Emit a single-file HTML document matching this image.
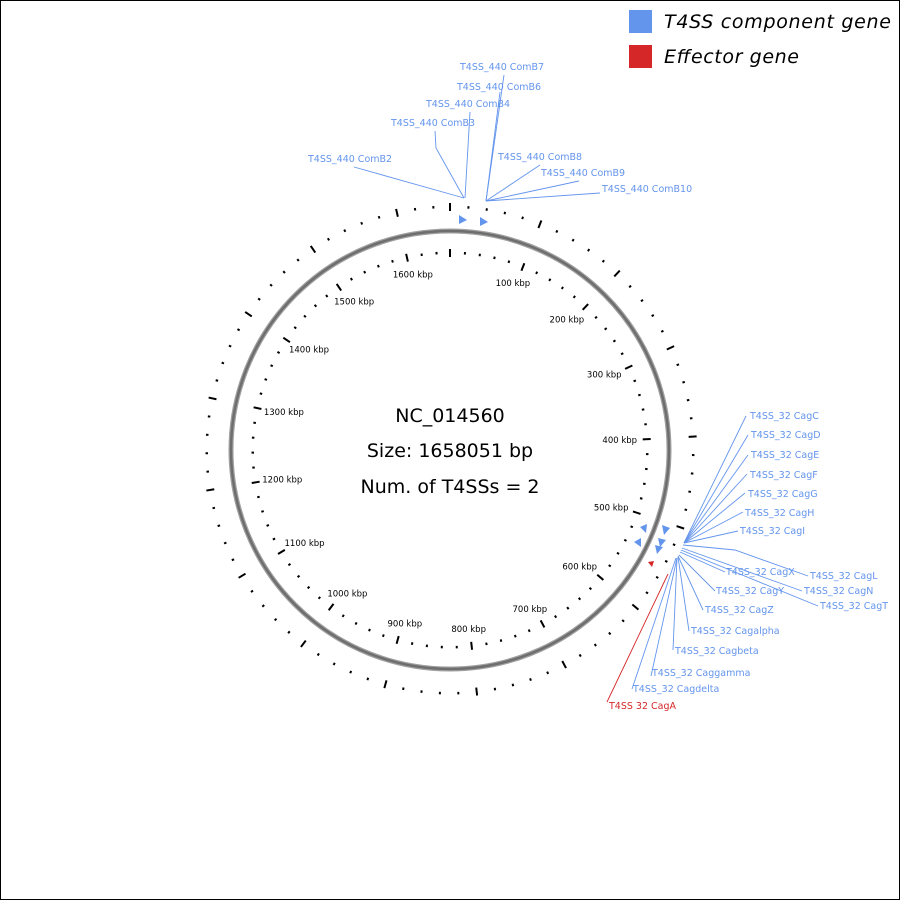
<!DOCTYPE html>
<html><head><meta charset="utf-8"><style>
html,body{margin:0;padding:0;background:#fff}
svg{display:block}
.l{font-family:"DejaVu Sans","Liberation Sans",sans-serif;font-size:9.5px;fill:#6495ED}
.k{font-family:"DejaVu Sans","Liberation Sans",sans-serif;font-size:8.5px;fill:#000}
.c{font-family:"DejaVu Sans","Liberation Sans",sans-serif;font-size:19px;fill:#000;text-anchor:middle}
</style></head><body>
<svg id="s" width="900" height="900" viewBox="0 0 900 900" xmlns="http://www.w3.org/2000/svg">
<rect x="0.5" y="0.5" width="899" height="899" fill="#fff" stroke="#000" stroke-width="1"/>
<rect x="629" y="10" width="23" height="23" fill="#6495ED"/>
<text x="664" y="28" font-family="DejaVu Sans,Liberation Sans,sans-serif" font-size="19" font-style="italic" textLength="227">T4SS component gene</text>
<rect x="629" y="45" width="23" height="23" fill="#D62728"/>
<text x="664" y="63" font-family="DejaVu Sans,Liberation Sans,sans-serif" font-size="19" font-style="italic" textLength="135">Effector gene</text>
<circle cx="450" cy="450" r="219" fill="none" stroke="#a0a0a0" stroke-width="5"/>
<circle cx="450" cy="450" r="219" fill="none" stroke="#6e6e6e" stroke-width="2.5"/>
<g id="ticks"></g>
<text class="c" x="450" y="422">NC_014560</text>
<text class="c" x="450" y="457">Size: 1658051 bp</text>
<text class="c" x="450" y="493">Num. of T4SSs = 2</text>
<g fill="#6495ED">
<polygon points="459,215 467,220 459,224"/>
<polygon points="480,217 488,222 480,226"/>
<polygon points="662,525 670,528 664,535"/>
<polygon points="658,538 666,540 660,547"/>
<polygon points="655,545 663,547 657,554"/>
<polygon points="640,527 647,524 646,533"/>
<polygon points="634,542 641,538 641,547"/>
</g>
<polygon points="648,562 654,561 652,567" fill="#D62728"/>
<g stroke="#6495ED" stroke-width="0.9" fill="none">
<polyline points="354,167 464,198"/>
<polyline points="435,131 436,148 464,198"/>
<polyline points="470,112 465,198"/>
<polyline points="504,75 486,201"/>
<polyline points="500,92 486,201"/>
<polyline points="540,165 486,201"/>
<polyline points="579,181 486,201"/>
<polyline points="600,193 486,201"/>
<polyline points="746,416 684,543"/>
<polyline points="748,435 684,543"/>
<polyline points="748,455 684,543"/>
<polyline points="747,474 684,543"/>
<polyline points="745,493 684,543"/>
<polyline points="743,512 684,543"/>
<polyline points="738,531 684,543"/>
<polyline points="683,545 735,550 808,576"/>
<polyline points="682,548 802,591"/>
<polyline points="681,550 818,606"/>
<polyline points="680,552 725,572"/>
<polyline points="679,555 715,591"/>
<polyline points="678,556 703,610"/>
<polyline points="678,557 689,631"/>
<polyline points="677,558 673,650"/>
<polyline points="677,558 651,676"/>
<polyline points="676,558 632,689"/>
</g>
<line x1="668" y1="574" x2="607" y2="702" stroke="#D62728" stroke-width="0.9"/>
<text class="l" x="460" y="70">T4SS_440 ComB7</text>
<text class="l" x="457" y="90">T4SS_440 ComB6</text>
<text class="l" x="426" y="107">T4SS_440 ComB4</text>
<text class="l" x="391" y="126">T4SS_440 ComB3</text>
<text class="l" x="308" y="162">T4SS_440 ComB2</text>
<text class="l" x="498" y="160">T4SS_440 ComB8</text>
<text class="l" x="541" y="176">T4SS_440 ComB9</text>
<text class="l" x="602" y="192">T4SS_440 ComB10</text>
<text class="l" x="750" y="419">T4SS_32 CagC</text>
<text class="l" x="751" y="438">T4SS_32 CagD</text>
<text class="l" x="751" y="458">T4SS_32 CagE</text>
<text class="l" x="750" y="478">T4SS_32 CagF</text>
<text class="l" x="748" y="497">T4SS_32 CagG</text>
<text class="l" x="745" y="516">T4SS_32 CagH</text>
<text class="l" x="740" y="534">T4SS_32 CagI</text>
<text class="l" x="726" y="575">T4SS_32 CagX</text>
<text class="l" x="810" y="579">T4SS_32 CagL</text>
<text class="l" x="804" y="594">T4SS_32 CagN</text>
<text class="l" x="820" y="609">T4SS_32 CagT</text>
<text class="l" x="716" y="594">T4SS_32 CagY</text>
<text class="l" x="705" y="613">T4SS_32 CagZ</text>
<text class="l" x="691" y="634">T4SS_32 Cagalpha</text>
<text class="l" x="675" y="654">T4SS_32 Cagbeta</text>
<text class="l" x="652" y="676">T4SS_32 Caggamma</text>
<text class="l" x="633" y="692">T4SS_32 Cagdelta</text>
<text class="l" x="609" y="709" style="fill:#D62728">T4SS 32 CagA</text>
</svg>
<script>
(function(){
var g=document.getElementById('ticks'),ns='http://www.w3.org/2000/svg',L=1658051,cx=450,cy=450;
function ln(a,r1,r2,w){var s=Math.sin(a),c=Math.cos(a);var e=document.createElementNS(ns,'line');
e.setAttribute('x1',cx+r1*s);e.setAttribute('y1',cy-r1*c);e.setAttribute('x2',cx+r2*s);e.setAttribute('y2',cy-r2*c);
e.setAttribute('stroke','#000');e.setAttribute('stroke-width',w);g.appendChild(e);}
for(var k=0;k*20000<L;k++){var a=k*20000/L*2*Math.PI;
if(k%5==0){ln(a,239,247,2);ln(a,193,201,2);
if(k>0){var t=document.createElementNS(ns,'text');t.setAttribute('class','k');t.setAttribute('text-anchor','middle');
t.setAttribute('x',cx+170*Math.sin(a));t.setAttribute('y',cy-180*Math.cos(a)+3);t.textContent=(k*20)+' kbp';g.appendChild(t);}}
else{ln(a,242,244.5,2);ln(a,196,198.5,2);}}
})();
</script>
</body></html>
